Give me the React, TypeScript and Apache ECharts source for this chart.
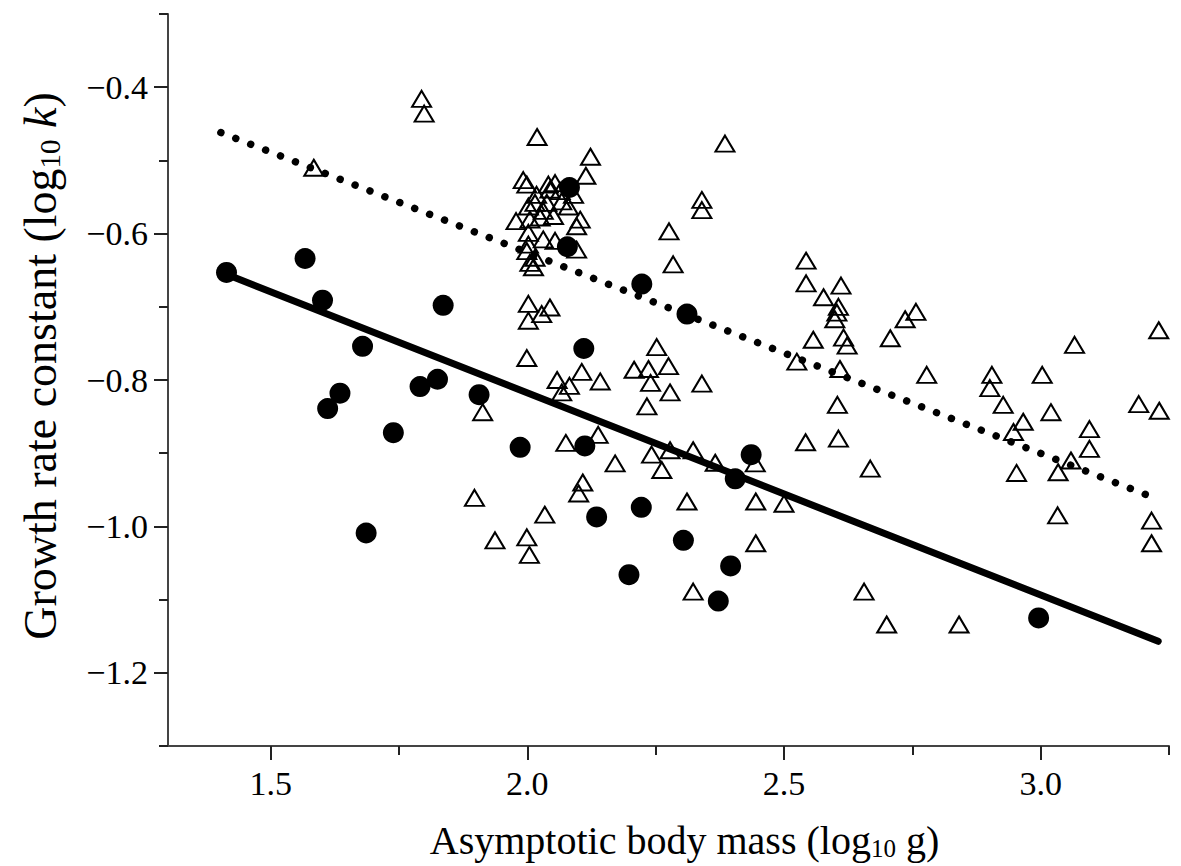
import React, { useEffect, useRef } from "react";
import * as echarts from "echarts";

// Filled circles
const circleX = [1.414, 1.567, 1.601, 1.836, 1.679, 1.635, 1.611, 1.791, 1.825, 1.906, 1.739, 1.686, 2.082, 2.078, 2.223, 2.311, 2.110, 1.986, 2.112, 2.135, 2.222, 2.198, 2.436, 2.405, 2.304, 2.396, 2.372, 2.996];
const circleY = [-0.653, -0.634, -0.691, -0.698, -0.754, -0.818, -0.839, -0.809, -0.799, -0.820, -0.872, -1.009, -0.537, -0.618, -0.669, -0.710, -0.757, -0.892, -0.890, -0.987, -0.974, -1.066, -0.902, -0.935, -1.019, -1.054, -1.102, -1.125];

// Open triangles
const triX = [1.794, 1.799, 1.584, 1.913, 1.897, 1.937, 2.019, 2.123, 2.114, 1.992, 1.999, 2.041, 2.054, 2.044, 2.018, 2.064, 2.090, 2.015, 2.038, 2.067, 2.080, 2.002, 2.031, 2.051, 1.978, 2.005, 2.025, 2.103, 2.096, 2.002, 2.031, 2.002, 2.054, 2.096, 1.999, 2.015, 2.005, 2.012, 2.002, 2.044, 2.028, 2.002, 1.999, 2.058, 2.082, 2.067, 2.106, 2.142, 2.252, 2.208, 2.236, 2.240, 2.275, 2.278, 2.233, 2.075, 2.138, 2.171, 2.242, 2.262, 2.108, 2.100, 2.034, 1.999, 2.004, 2.385, 2.340, 2.340, 2.276, 2.284, 2.543, 2.543, 2.611, 2.577, 2.606, 2.603, 2.599, 2.557, 2.616, 2.623, 2.525, 2.609, 2.604, 2.542, 2.606, 2.340, 2.323, 2.366, 2.444, 2.311, 2.445, 2.500, 2.445, 2.278, 2.323, 2.656, 2.700, 2.841, 2.707, 3.066, 3.230, 2.778, 2.905, 2.901, 3.003, 2.927, 2.966, 2.947, 3.020, 3.095, 3.095, 3.191, 3.231, 3.059, 3.034, 2.953, 2.668, 3.033, 3.216, 3.216, 2.736, 2.757];
const triY = [-0.416, -0.436, -0.510, -0.844, -0.961, -1.019, -0.468, -0.495, -0.521, -0.527, -0.533, -0.533, -0.531, -0.540, -0.547, -0.542, -0.547, -0.558, -0.558, -0.556, -0.563, -0.563, -0.569, -0.576, -0.583, -0.581, -0.578, -0.581, -0.590, -0.599, -0.608, -0.615, -0.610, -0.622, -0.624, -0.633, -0.640, -0.646, -0.696, -0.701, -0.710, -0.719, -0.770, -0.800, -0.808, -0.817, -0.789, -0.802, -0.755, -0.786, -0.785, -0.804, -0.781, -0.817, -0.836, -0.886, -0.875, -0.914, -0.902, -0.923, -0.940, -0.955, -0.984, -1.015, -1.039, -0.477, -0.554, -0.568, -0.597, -0.642, -0.637, -0.668, -0.671, -0.687, -0.700, -0.708, -0.717, -0.745, -0.742, -0.753, -0.775, -0.785, -0.834, -0.885, -0.880, -0.805, -0.896, -0.913, -0.914, -0.966, -0.966, -0.969, -1.023, -0.896, -1.089, -1.089, -1.134, -1.134, -0.743, -0.752, -0.732, -0.793, -0.793, -0.811, -0.793, -0.834, -0.857, -0.871, -0.844, -0.867, -0.894, -0.833, -0.842, -0.910, -0.926, -0.927, -0.921, -0.985, -0.992, -1.023, -0.717, -0.707];

// Fitted lines (end points)
const solidLineX = [1.415, 3.229];
const solidLineY = [-0.656, -1.157];
const dottedLineX = [1.403, 3.225];
const dottedLineY = [-0.462, -0.962];

// Axis ticks
const xMajorTicks = [1.5, 2.0, 2.5, 3.0];
const xMinorTicks = [1.75, 2.25, 2.75, 3.25];
const yMajorTicks = [-1.2, -1.0, -0.8, -0.6, -0.4];
const yMinorTicks = [-1.3, -1.1, -0.9, -0.7, -0.5, -0.3];

const X_MIN = 1.3, X_MAX = 3.25, Y_MIN = -1.3, Y_MAX = -0.3;
const FONT = "'Liberation Serif', 'Times New Roman', serif";

export default function App() {
  const ref = useRef<HTMLDivElement>(null);
  useEffect(() => {
    if (!ref.current) return;
    const chart = echarts.init(ref.current, null, { renderer: "svg" });
    const zip = (xs: number[], ys: number[]) => xs.map((x, i) => [x, ys[i]]);
    const axisLineStyle = { color: "#444", width: 2 };
    const richFor = (size: number) => ({
      a: { fontFamily: FONT, fontSize: size, color: "#000", lineHeight: size + 2 },
      i: { fontFamily: FONT, fontSize: size, color: "#000", lineHeight: size + 2, fontStyle: "italic" },
      s: { fontFamily: FONT, fontSize: Math.round(size * 0.62), color: "#000", lineHeight: Math.round(size * 0.3), verticalAlign: "bottom" },
    });
    chart.setOption({
      animation: false,
      backgroundColor: "#fff",
      grid: { left: 168, right: 12, top: 14, bottom: 118, containLabel: false },
      xAxis: [
        {
          type: "value", min: X_MIN, max: X_MAX, position: "bottom",
          axisLine: { show: true, lineStyle: axisLineStyle },
          splitLine: { show: false },
          axisTick: { show: true, inside: false, length: 14, customValues: xMajorTicks, lineStyle: { color: "#222", width: 2 } },
          axisLabel: {
            customValues: xMajorTicks, margin: 20,
            formatter: (v: number) => v.toFixed(1),
            fontFamily: FONT, fontSize: 34, color: "#000",
          },
          name: "{a|Asymptotic body mass (log}{s|10}{a| g)}",
          nameLocation: "middle", nameGap: 73,
          nameTextStyle: { rich: richFor(40), padding: [0, 0, 0, 32] },
        },
        {
          type: "value", min: X_MIN, max: X_MAX, position: "bottom", offset: 0,
          axisLine: { show: false },
          splitLine: { show: false },
          axisTick: { show: true, inside: false, length: 9, customValues: xMinorTicks, lineStyle: { color: "#222", width: 2 } },
          axisLabel: { show: false },
        },
      ],
      yAxis: [
        {
          type: "value", min: Y_MIN, max: Y_MAX, position: "left",
          axisLine: { show: true, lineStyle: axisLineStyle },
          splitLine: { show: false },
          axisTick: { show: true, inside: false, length: 14, customValues: yMajorTicks, lineStyle: { color: "#222", width: 2 } },
          axisLabel: {
            customValues: yMajorTicks, margin: 20,
            formatter: (v: number) => (v < 0 ? "\u2212" : "") + Math.abs(v).toFixed(1),
            fontFamily: FONT, fontSize: 34, color: "#000",
          },
          name: "{a|Growth rate constant (log}{s|10}{i| k}{a|)}",
          nameLocation: "middle", nameGap: 104, nameRotate: 90,
          nameTextStyle: { rich: richFor(46), padding: [0, 0, 0, 28] },
        },
        {
          type: "value", min: Y_MIN, max: Y_MAX, position: "left", offset: 0,
          axisLine: { show: false },
          splitLine: { show: false },
          axisTick: { show: true, inside: false, length: 9, customValues: yMinorTicks, lineStyle: { color: "#222", width: 2 } },
          axisLabel: { show: false },
        },
      ],
      series: [
        {
          type: "line", data: zip(dottedLineX, dottedLineY), showSymbol: false, symbol: "none",
          lineStyle: { color: "#000", width: 7.5, type: [0.01, 16], cap: "round", opacity: 1 },
          z: 2,
        },
        {
          type: "scatter", data: zip(triX, triY), symbol: "triangle", symbolSize: [19, 16],
          itemStyle: { color: "transparent", borderColor: "#000", borderWidth: 2, opacity: 1 },
          z: 3,
        },
        {
          type: "line", data: zip(solidLineX, solidLineY), showSymbol: false, symbol: "none",
          lineStyle: { color: "#000", width: 7, cap: "round", opacity: 1 },
          z: 4,
        },
        {
          type: "scatter", data: zip(circleX, circleY), symbol: "circle", symbolSize: 21,
          itemStyle: { color: "#000", opacity: 1 },
          z: 5,
        },
      ],
    });
    return () => chart.dispose();
  }, []);
  return (
    <div
      ref={ref}
      style={{ position: "fixed", left: 0, top: 0, width: 1181, height: 866, background: "#fff" }}
    />
  );
}
